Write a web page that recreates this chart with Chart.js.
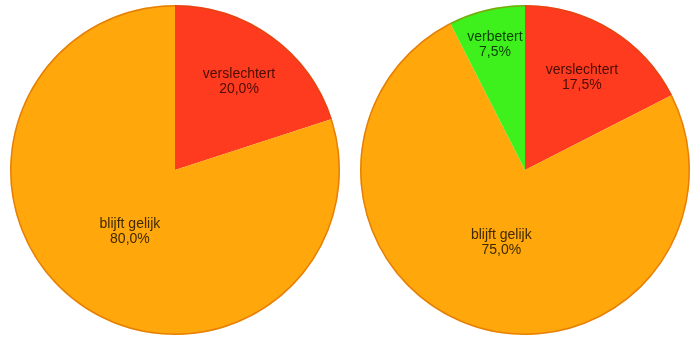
<!DOCTYPE html>
<html>
<head>
<meta charset="utf-8">
<script src="https://cdn.jsdelivr.net/npm/chart.js@4/dist/chart.umd.min.js"></script>
<style>
  html, body { margin: 0; padding: 0; background: #ffffff; }
  #wrap { position: relative; width: 699px; height: 340px; }
  .box { position: absolute; top: 0; width: 350px; height: 340px; }
  #left { left: 0; }
  #right { left: 350px; }
</style>
</head>
<body>
<div id="wrap">
  <div class="box" id="left"><canvas id="chartLeft" width="350" height="340"></canvas></div>
  <div class="box" id="right"><canvas id="chartRight" width="350" height="340"></canvas></div>
</div>
<script>
// data
var left_labels = ['verslechtert', 'blijft gelijk'];
var left_values = [20.0, 80.0];
var right_labels = ['verslechtert', 'blijft gelijk', 'verbetert'];
var right_values = [17.5, 75.0, 7.5];

var slice_color = {'verslechtert': '#ff3b1f', 'blijft gelijk': '#ffa70b', 'verbetert': '#3ff11c'};
var text_color = {'verslechtert': '#4a0d05', 'blijft gelijk': '#3f2a00', 'verbetert': '#0d3f05'};
// how far out (fraction of radius) each label sits
var label_dist = {'verslechtert': 0.66, 'blijft gelijk': 0.465, 'verbetert': 0.78};

const slice_labels = {
  id: 'slice_labels',
  afterDatasetsDraw: (chart) => {
    const ctx = chart.ctx;
    const meta = chart.getDatasetMeta(0);
    const labels = chart.data.labels;
    const values = chart.data.datasets[0].data;
    ctx.save();
    // thin darker rim round the pie
    const a0 = meta.data[0].getProps(['x', 'y', 'outerRadius']);
    ctx.beginPath();
    ctx.arc(a0.x, a0.y, a0.outerRadius - 0.75, 0, Math.PI * 2);
    ctx.strokeStyle = 'rgba(200, 80, 0, 0.45)';
    ctx.lineWidth = 1.5;
    ctx.stroke();

    ctx.font = '14px "Liberation Sans", Arial, sans-serif';
    ctx.textAlign = 'center';
    ctx.textBaseline = 'middle';
    meta.data.forEach(function (arc, i) {
      const p = arc.getProps(['x', 'y', 'startAngle', 'endAngle', 'outerRadius']);
      const mid = (p.startAngle + p.endAngle) / 2;
      const d = p.outerRadius * label_dist[labels[i]];
      const x = p.x + Math.cos(mid) * d;
      const y = p.y + Math.sin(mid) * d;
      ctx.fillStyle = text_color[labels[i]];
      ctx.fillText(labels[i], x, y - 7.5);
      ctx.fillText(values[i].toFixed(1).replace('.', ',') + '%', x, y + 7.5);
    });
    ctx.restore();
  }
};

function make_pie(canvas_id, labels, values) {
  var colors = [];
  for (i = 0; i < labels.length; i++) {
    colors.push(slice_color[labels[i]]);
  }
  return new Chart(document.getElementById(canvas_id).getContext('2d'), {
    type: 'pie',
    data: {
      labels: labels,
      datasets: [{
        data: values,
        backgroundColor: colors,
        borderWidth: 0
      }]
    },
    options: {
      responsive: false,
      animation: false,
      layout: { padding: 5 },
      plugins: {
        legend: { display: false },
        tooltip: { enabled: false }
      }
    },
    plugins: [slice_labels]
  });
}

make_pie('chartLeft', left_labels, left_values);
make_pie('chartRight', right_labels, right_values);
</script>
</body>
</html>
